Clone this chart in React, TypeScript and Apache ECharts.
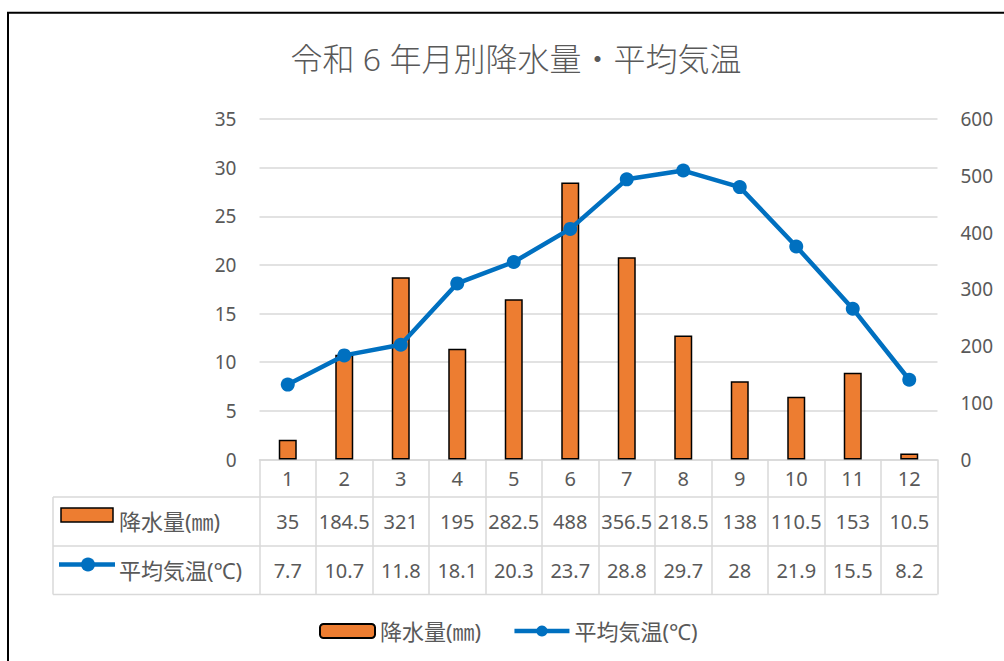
import React, { useEffect, useRef } from "react";
import * as echarts from "echarts";

const months = ["1", "2", "3", "4", "5", "6", "7", "8", "9", "10", "11", "12"];
const rainfall = [35, 184.5, 321, 195, 282.5, 488, 356.5, 218.5, 138, 110.5, 153, 10.5];
const temperature = [7.7, 10.7, 11.8, 18.1, 20.3, 23.7, 28.8, 29.7, 28, 21.9, 15.5, 8.2];
const rainName = "降水量(㎜)";
const tempName = "平均気温(℃)";
const titleText = "令和 6 年月別降水量・平均気温";

const BAR_COLOR = "#ED7D31";
const LINE_COLOR = "#0070C0";
const TEXT_COLOR = "#595959";
const GRID_COLOR = "#D9D9D9";
const FONT = '"Noto Sans", "Noto Sans CJK JP", sans-serif';

const GRID_LEFT = 259.5;
const GRID_RIGHT_X = 937.5;
const GRID_TOP = 119;
const GRID_BOTTOM_Y = 459.5;
const TABLE_LEFT = 53;
const ROW1 = 497;
const ROW2 = 546;
const ROW3 = 594.5;

export default function App() {
  const ref = useRef<HTMLDivElement>(null);
  useEffect(() => {
    if (!ref.current) return;
    const chart = echarts.init(ref.current, undefined, { renderer: "svg" });
    const tableLine = (y: number) => ({
      type: "line",
      shape: { x1: TABLE_LEFT, y1: y, x2: GRID_RIGHT_X, y2: y },
      style: { stroke: GRID_COLOR, lineWidth: 1.5 },
      silent: true,
    });
    const option: any = {
      animation: false,
      backgroundColor: "#fff",
      title: {
        text: titleText,
        left: 511,
        top: 37,
        textAlign: "center",
        textStyle: { color: TEXT_COLOR, fontSize: 32, fontWeight: 300, fontFamily: FONT },
      },
      legend: {
        left: 319,
        top: 620,
        padding: 0,
        itemWidth: 55,
        itemHeight: 14,
        itemGap: 31,
        textStyle: { color: TEXT_COLOR, fontSize: 22, fontFamily: FONT },
        data: [rainName, { name: tempName, lineStyle: { width: 4.5 } }],
      },
      grid: {
        left: GRID_LEFT,
        right: 1004 - GRID_RIGHT_X,
        top: GRID_TOP,
        bottom: 661 - GRID_BOTTOM_Y,
      },
      xAxis: [
        {
          type: "category",
          data: months,
          position: "bottom",
          axisLine: { lineStyle: { color: GRID_COLOR, width: 1.5 } },
          axisTick: { show: true, interval: 0, length: ROW3 - GRID_BOTTOM_Y, lineStyle: { color: GRID_COLOR, width: 1.5 } },
          axisLabel: { interval: 0, margin: 9, color: TEXT_COLOR, fontSize: 20, fontFamily: FONT },
        },
        {
          type: "category",
          data: months,
          position: "bottom",
          offset: 43,
          axisLine: { show: false },
          axisTick: { show: false },
          axisLabel: {
            interval: 0,
            margin: 9,
            color: TEXT_COLOR,
            fontSize: 20,
            fontFamily: FONT,
            formatter: (_v: string, i: number) => String(rainfall[i]),
          },
        },
        {
          type: "category",
          data: months,
          position: "bottom",
          offset: 92,
          axisLine: { show: false },
          axisTick: { show: false },
          axisLabel: {
            interval: 0,
            margin: 9,
            color: TEXT_COLOR,
            fontSize: 20,
            fontFamily: FONT,
            formatter: (_v: string, i: number) => String(temperature[i]),
          },
        },
      ],
      yAxis: [
        {
          type: "value",
          min: 0,
          max: 35,
          interval: 5,
          axisLine: { show: false },
          axisTick: { show: false },
          splitLine: { lineStyle: { color: GRID_COLOR, width: 1.5 } },
          axisLabel: { margin: 23, color: TEXT_COLOR, fontSize: 19, fontFamily: FONT },
        },
        {
          type: "value",
          min: 0,
          max: 600,
          interval: 100,
          axisLine: { show: false },
          axisTick: { show: false },
          splitLine: { show: false },
          axisLabel: { margin: 23, color: TEXT_COLOR, fontSize: 19, fontFamily: FONT },
        },
      ],
      series: [
        {
          name: rainName,
          type: "bar",
          xAxisIndex: 0,
          yAxisIndex: 1,
          data: rainfall,
          barWidth: 18,
          itemStyle: { color: BAR_COLOR, borderColor: "#000", borderWidth: 1.5 },
        },
        {
          name: tempName,
          type: "line",
          xAxisIndex: 0,
          yAxisIndex: 0,
          data: temperature,
          symbol: "circle",
          symbolSize: 14,
          lineStyle: { color: LINE_COLOR, width: 4.5 },
          itemStyle: { color: LINE_COLOR },
        },
      ],
      graphic: [
        {
          type: "rect",
          shape: { x: 8, y: 12.7, width: 3000, height: 3000 },
          style: { fill: "none", stroke: "#000", lineWidth: 2 },
          silent: true,
        },
        tableLine(ROW1),
        tableLine(ROW2),
        tableLine(ROW3),
        {
          type: "line",
          shape: { x1: TABLE_LEFT, y1: ROW1, x2: TABLE_LEFT, y2: ROW3 },
          style: { stroke: GRID_COLOR, lineWidth: 1.5 },
          silent: true,
        },
        {
          type: "rect",
          shape: { x: 61, y: 508, width: 52, height: 14 },
          style: { fill: BAR_COLOR, stroke: "#000", lineWidth: 1.5 },
          silent: true,
        },
        {
          type: "line",
          shape: { x1: 59, y1: 564.5, x2: 115, y2: 564.5 },
          style: { stroke: LINE_COLOR, lineWidth: 4.5 },
          silent: true,
        },
        {
          type: "circle",
          shape: { cx: 88, cy: 564.5, r: 7 },
          style: { fill: LINE_COLOR },
          silent: true,
        },
        {
          type: "text",
          x: 119,
          y: 521,
          style: { text: rainName, fill: TEXT_COLOR, fontSize: 22, fontFamily: FONT, verticalAlign: "middle" },
          silent: true,
        },
        {
          type: "text",
          x: 119,
          y: 570,
          style: { text: tempName, fill: TEXT_COLOR, fontSize: 22, fontFamily: FONT, verticalAlign: "middle" },
          silent: true,
        },
      ],
    };
    chart.setOption(option);
    return () => chart.dispose();
  }, []);
  return (
    <div
      ref={ref}
      style={{ position: "fixed", left: 0, top: 0, width: 1004, height: 661, background: "#fff" }}
    />
  );
}
